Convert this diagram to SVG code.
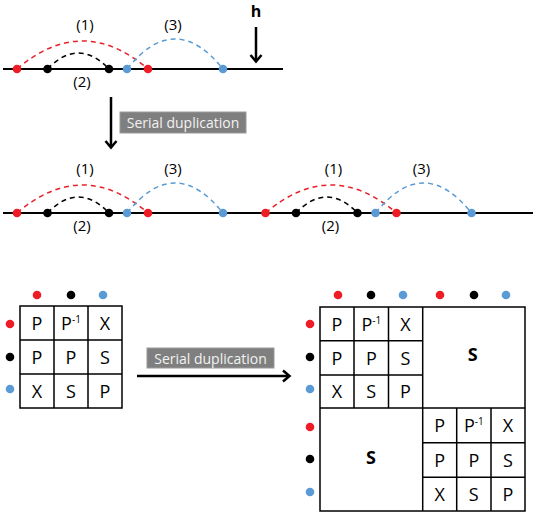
<svg xmlns="http://www.w3.org/2000/svg" width="536" height="516" viewBox="0 0 536 516">
<style>
.t{font-family:"Open Sans","Liberation Sans",sans-serif;fill:#000}
.lbl{font-size:15px;text-anchor:middle}
.cell{font-size:18px;text-anchor:middle}
.sup{font-size:10px}
.big{font-size:18px;font-weight:bold;text-anchor:middle}
.base{stroke:#000;stroke-width:2;fill:none}
.arc{fill:none;stroke-width:1.5;stroke-dasharray:5,4}
.r{fill:#ee1c25}.k{fill:#000}.b{fill:#5b9bd5}
.ar{stroke:#e8202a}.ak{stroke:#000}.ab{stroke:#5b9bd5}
.grid{fill:#fff;stroke:#000;stroke-width:1.5}
.arrow{stroke:#000;stroke-width:2.5;fill:none}
.box{fill:#7f7f7f;stroke:#9a9a9a;stroke-width:1}
.bt{font-family:"Open Sans","Liberation Sans",sans-serif;font-size:14px;fill:#f2f2f2;text-anchor:middle}
</style>
<defs>
<g id="motif">
<path class="arc ar" d="M17,69 Q82.5,13 148,69"/>
<path class="arc ak" d="M47.5,69 Q78.3,37 109,69"/>
<path class="arc ab" d="M127,69 Q175,9 223,69"/>
<circle class="r" cx="17" cy="69" r="4.3"/>
<circle class="k" cx="47.5" cy="69" r="4.3"/>
<circle class="k" cx="109" cy="69" r="4.3"/>
<circle class="b" cx="127" cy="69" r="4.3"/>
<circle class="r" cx="148" cy="69" r="4.3"/>
<circle class="b" cx="223" cy="69" r="4.3"/>
<text class="t lbl" x="85" y="30">(1)</text>
<text class="t lbl" x="173" y="30">(3)</text>
<text class="t lbl" x="82" y="86.5">(2)</text>
</g>
</defs>
<g id="top-sequence">
<line class="base" x1="3" y1="69" x2="283" y2="69"/>
<use href="#motif"/>
<text class="t" x="256" y="17" font-size="16" font-weight="bold" text-anchor="middle">h</text>
<line class="arrow" x1="256" y1="27" x2="256" y2="61"/>
<polyline class="arrow" points="250.5,55 256,61.5 261.5,55"/>
</g>
<g id="duplication-arrow-1">
<line class="arrow" x1="111" y1="97" x2="111" y2="147"/>
<polyline class="arrow" points="105.5,141 111,147.5 116.5,141"/>
<rect class="box" x="120" y="112" width="126" height="21"/>
<text class="bt" x="183" y="128">Serial duplication</text>
</g>
<g id="duplicated-sequence">
<line class="base" x1="3" y1="213" x2="533" y2="213"/>
<use href="#motif" transform="translate(0,144)"/>
<use href="#motif" transform="translate(248.5,144)"/>
</g>
<g id="left-matrix">
<circle class="r" cx="37" cy="295" r="4.3"/>
<circle class="k" cx="71" cy="295" r="4.3"/>
<circle class="b" cx="103" cy="295" r="4.3"/>
<circle class="r" cx="10" cy="324" r="4.3"/>
<circle class="k" cx="10" cy="357" r="4.3"/>
<circle class="b" cx="10" cy="389" r="4.3"/>
<rect class="grid" x="20" y="306" width="102" height="102"/>
<path class="grid" d="M54,306V408M88,306V408M20,340H122M20,374H122"/>
<text class="t cell" x="37" y="329.5">P</text>
<text class="t cell" x="71" y="329.5">P<tspan class="sup" dy="-7">-1</tspan></text>
<text class="t cell" x="105" y="329.5">X</text>
<text class="t cell" x="37" y="363.5">P</text>
<text class="t cell" x="71" y="363.5">P</text>
<text class="t cell" x="105" y="363.5">S</text>
<text class="t cell" x="37" y="397.5">X</text>
<text class="t cell" x="71" y="397.5">S</text>
<text class="t cell" x="105" y="397.5">P</text>
</g>
<g id="duplication-arrow-2">
<line class="arrow" x1="137" y1="376" x2="289" y2="376"/>
<polyline class="arrow" points="283,370.5 289.5,376 283,381.5"/>
<rect class="box" x="147" y="348" width="127" height="20"/>
<text class="bt" x="210.5" y="363.5">Serial duplication</text>
</g>
<g id="right-matrix">
<circle class="r" cx="338" cy="295" r="4.3"/>
<circle class="k" cx="371" cy="295" r="4.3"/>
<circle class="b" cx="403" cy="295" r="4.3"/>
<circle class="r" cx="440" cy="295" r="4.3"/>
<circle class="k" cx="474" cy="295" r="4.3"/>
<circle class="b" cx="506" cy="295" r="4.3"/>
<circle class="r" cx="310" cy="324" r="4.3"/>
<circle class="k" cx="310" cy="357" r="4.3"/>
<circle class="b" cx="310" cy="389" r="4.3"/>
<circle class="r" cx="310" cy="427" r="4.3"/>
<circle class="k" cx="310" cy="459" r="4.3"/>
<circle class="b" cx="310" cy="492" r="4.3"/>
<rect class="grid" x="320" y="307" width="205" height="204"/>
<path class="grid" d="M422.7,307V511M320,408H525M354,307V408M388.5,307V408M320,340.7H422.7M320,375H422.7M456.7,408V511M491,408V511M422.7,442.7H525M422.7,477.3H525"/>
<text class="t cell" x="337" y="330.5">P</text>
<text class="t cell" x="371.3" y="330.5">P<tspan class="sup" dy="-7">-1</tspan></text>
<text class="t cell" x="405.5" y="330.5">X</text>
<text class="t cell" x="337" y="364.5">P</text>
<text class="t cell" x="371.3" y="364.5">P</text>
<text class="t cell" x="405.5" y="364.5">S</text>
<text class="t cell" x="337" y="398">X</text>
<text class="t cell" x="371.3" y="398">S</text>
<text class="t cell" x="405.5" y="398">P</text>
<text class="t big" x="472.7" y="361">S</text>
<text class="t big" x="371" y="464">S</text>
<text class="t cell" x="439.7" y="431.8">P</text>
<text class="t cell" x="473.8" y="431.8">P<tspan class="sup" dy="-7">-1</tspan></text>
<text class="t cell" x="508" y="431.8">X</text>
<text class="t cell" x="439.7" y="466.5">P</text>
<text class="t cell" x="473.8" y="466.5">P</text>
<text class="t cell" x="508" y="466.5">S</text>
<text class="t cell" x="439.7" y="500.5">X</text>
<text class="t cell" x="473.8" y="500.5">S</text>
<text class="t cell" x="508" y="500.5">P</text>
</g>
</svg>
